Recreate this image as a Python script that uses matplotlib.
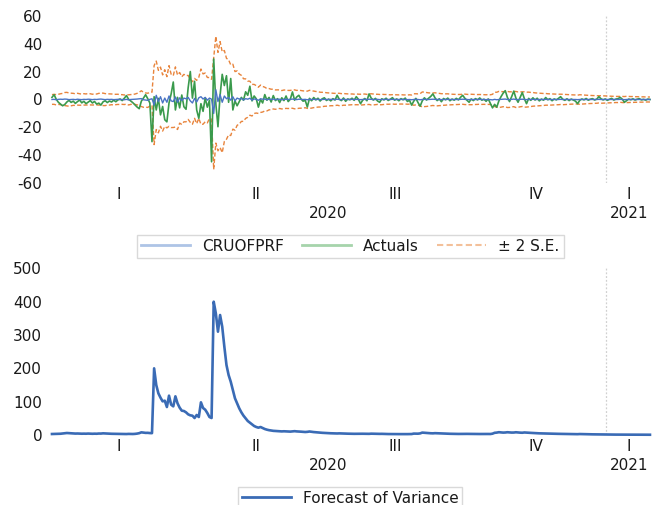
import numpy as np
import pandas as pd
import matplotlib
matplotlib.use("Agg")
import matplotlib.pyplot as plt
from matplotlib.lines import Line2D
from matplotlib.transforms import blended_transform_factory

plt.rcParams["font.family"] = ["DejaVu Sans"]
plt.rcParams["axes.unicode_minus"] = False

# Daily crude oil returns (%), GARCH mean forecast and forecast of variance
start_date = "2020-01-02"

actuals = [
    1.5, 3.4, 0.2, -2.0, -3.2, -4.5, -3.6, -1.8, -0.6, -2.1,
    -1.2, -2.8, -1.5, -0.4, -2.4, -1.3, -3.0, -1.9, -0.8, -2.5,
    -1.4, -3.3, -2.6, -4.0, -1.7, -0.9, -2.2, -1.1, -1.8, -0.5,
    -1.6, -0.3, 0.4, -0.8, 0.9, 2.8, 0.2, -1.0, -2.3, -3.8,
    -5.4, -6.6, -1.2, 1.0, 3.4, 0.6, -2.5, -30.2, 2.0, -7.5,
    0.8, -11.0, -5.0, -14.5, -16.0, -2.5, 4.0, 12.5, -7.5, 1.5,
    -6.0, 3.2, -5.2, -7.0, 8.5, 20.0, 1.0, 13.0, -7.5, -13.5,
    -3.0, -8.5, 1.2, -5.5, -0.5, -44.6, 29.0, -3.0, -19.5, 3.0,
    18.0, 10.0, 17.0, -2.0, 15.0, -7.5, -1.0, -4.5, -1.5, 1.5,
    -0.5, 5.5, 3.0, 9.5, -1.0, 2.5, 0.5, -5.5, 0.0, -2.5,
    3.5, -0.5, 1.5, -1.8, 2.8, -0.8, 0.6, -2.2, 1.2, -0.8,
    2.5, -1.5, 0.2, 5.4, -0.5, 1.8, 3.0, 0.4, -1.2, -0.6,
    -5.4, 0.8, -0.9, 1.4, -0.3, 0.9, -1.1, 0.5, 1.2, -0.7,
    0.3, -1.0, 0.6, -0.4, 3.0, 0.2, -0.8, 1.1, -1.3, 0.4,
    -0.2, 0.9, -0.6, 2.0, 0.1, -3.0, -0.5, 0.7, -0.9, 4.0,
    1.0, -0.4, 0.8, -1.1, -2.0, 0.5, -0.3, 0.9, -0.7, 0.2,
    1.3, -0.5, 0.4, -0.9, 0.6, -0.2, 1.0, -1.4, -0.6, -4.0,
    -1.2, 0.8, -2.2, -4.8, -1.0, 1.2, -0.4, 0.9, 2.2, 4.0,
    1.1, -0.8, 0.5, -1.6, 0.7, -0.2, 1.0, -0.9, 0.3, -0.5,
    0.8, -0.3, 1.6, 3.0, 0.9, -0.6, -2.0, 0.4, -0.8, 0.6,
    -0.3, 1.1, -0.5, 0.2, -1.3, 0.4, -2.8, -6.0, -3.5, -5.5,
    -1.0, 2.0, 4.5, 6.3, 1.5, -1.5, 2.0, 6.0, 1.0, -2.0,
    1.5, 5.0, 0.5, -3.0, 0.8, -0.6, 1.2, -0.4, 0.9, -1.0,
    0.3, -0.5, 1.4, -0.2, 0.6, -0.9, 0.4, -0.3, 0.8, 2.0,
    0.2, -0.6, 0.5, -0.8, 0.3, -0.4, -1.2, -3.0, -0.6, 0.4,
    -0.3, 0.7, -0.5, 0.2, 0.6, -0.4, 0.3, 2.0, 0.5, -0.3,
    0.4, -0.6, 0.2, 0.8, -0.4, 0.3, 0.6, 1.5, 0.2, -2.0,
    -0.8, 0.3, -0.2, 0.5, -0.4, 0.2, 0.6, -0.3, 0.1, -0.5,
    0.3, 0.0,
]

forecast = [
    0.0, 0.1, -0.2, 0.1, 0.2, 0.1, 0.3, 0.2, -0.1, 0.0,
    0.1, -0.1, 0.2, 0.0, -0.1, 0.1, 0.0, 0.2, 0.1, -0.1,
    0.1, 0.0, 0.2, 0.3, 0.1, -0.1, 0.1, 0.0, 0.1, -0.1,
    0.0, 0.1, -0.1, 0.0, -0.2, 0.1, -0.3, 0.0, 0.1, 0.2,
    0.3, 0.5, 0.6, -0.2, -0.4, -0.6, 0.1, 0.5, -4.0, 3.0,
    -1.5, 2.0, -2.5, 1.0, -2.0, 2.5, -1.0, -1.5, 1.8, -2.0,
    1.2, -0.8, 1.0, 0.5, 1.5, -1.0, -2.5, 0.8, -1.8, 1.2,
    2.0, 0.3, 1.5, -0.5, 1.0, 0.2, -10.0, 7.0, -1.5, 3.5,
    -2.0, 2.5, 0.5, 1.5, -0.5, 2.0, -1.0, 1.0, 0.3, 0.8,
    -0.4, 0.6, 0.2, 0.9, -0.5, 0.4, 0.1, -0.6, 0.5, 0.2,
    0.3, -0.2, 0.2, 0.0, 0.3, -0.1, 0.1, 0.2, -0.2, 0.1,
    0.2, 0.0, 0.1, 0.3, 0.1, -0.1, 0.2, 0.1, 0.0, 0.1,
    -0.2, 0.1, 0.0, 0.1, 0.0, 0.1, -0.1, 0.0, 0.1, 0.0,
    0.0, 0.1, 0.0, 0.0, 0.2, 0.0, -0.1, 0.1, 0.0, 0.0,
    0.0, 0.1, 0.0, 0.1, 0.0, -0.1, 0.0, 0.1, 0.0, 0.2,
    0.1, 0.0, 0.0, 0.1, -0.1, 0.0, 0.0, 0.1, 0.0, 0.0,
    0.1, 0.0, 0.0, 0.0, 0.1, 0.0, 0.0, -0.1, 0.0, -0.2,
    0.0, 0.1, 0.0, -0.2, 0.0, 0.1, 0.0, 0.0, 0.1, 0.2,
    0.1, 0.0, 0.0, -0.1, 0.0, 0.0, 0.1, 0.0, 0.0, 0.0,
    0.0, 0.0, 0.1, 0.2, 0.1, 0.0, -0.1, 0.0, 0.0, 0.0,
    0.0, 0.1, 0.0, 0.0, -0.1, 0.0, -0.1, -0.3, 0.1, -0.2,
    0.0, 0.1, 0.2, 0.3, 0.0, -0.1, 0.1, 0.3, 0.0, -0.1,
    0.1, 0.2, 0.0, -0.1, 0.0, 0.0, 0.1, 0.0, 0.0, 0.0,
    0.0, 0.0, 0.1, 0.0, 0.0, 0.0, 0.0, 0.0, 0.0, 0.1,
    0.0, 0.0, 0.0, 0.0, 0.0, 0.0, 0.0, -0.1, 0.0, 0.0,
    0.0, 0.0, 0.0, 0.0, 0.0, 0.0, 0.0, 0.1, 0.0, 0.0,
    0.0, 0.0, 0.0, 0.0, 0.0, 0.0, 0.0, 0.1, 0.0, -0.1,
    0.0, 0.0, 0.0, 0.0, 0.0, 0.0, 0.0, 0.0, 0.0, 0.0,
    0.0, 0.0,
]

variance = [
    3.0, 3.2, 3.4, 3.3, 3.8, 4.5, 5.5, 6.0, 5.6, 5.0,
    4.6, 4.3, 4.5, 4.2, 3.9, 4.1, 3.9, 4.3, 4.0, 3.7,
    4.0, 3.8, 4.4, 4.3, 5.0, 4.6, 4.1, 4.0, 3.7, 3.6,
    3.4, 3.3, 3.1, 3.0, 2.9, 2.9, 3.3, 3.1, 3.0, 3.4,
    4.2, 5.5, 8.0, 7.2, 6.4, 6.5, 5.8, 5.6, 200, 150,
    125, 112, 101, 103, 84, 118, 91, 86, 116, 95,
    82, 73, 72, 68, 62, 59, 58, 51, 60, 54,
    98, 81, 76, 66, 54, 51, 400, 365, 310, 360,
    325, 265, 210, 180, 160, 135, 110, 95, 80, 68,
    58, 50, 42, 37, 32, 27, 24, 22, 24, 21,
    18, 16, 14.5, 13.5, 12.5, 12, 11.5, 11, 10.8, 11.2,
    10.8, 10.5, 10.2, 10.8, 11.5, 10.8, 10.5, 10, 9.5, 9.0,
    9.5, 10.5, 9.5, 8.8, 8.2, 7.6, 7.0, 6.6, 6.2, 5.8,
    5.5, 5.2, 5.0, 4.8, 4.6, 4.9, 4.6, 4.4, 4.2, 4.0,
    3.8, 3.7, 3.6, 3.7, 3.6, 3.7, 3.8, 3.6, 3.4, 3.5,
    4.0, 3.8, 3.5, 3.3, 3.4, 3.5, 3.2, 3.0, 2.9, 2.8,
    2.8, 2.9, 2.8, 2.7, 2.8, 2.7, 2.6, 2.7, 2.8, 2.9,
    4.2, 4.0, 4.0, 4.8, 7.2, 6.8, 6.2, 5.6, 5.2, 5.0,
    5.5, 5.2, 4.8, 4.5, 4.3, 4.1, 3.9, 3.7, 3.5, 3.4,
    3.3, 3.2, 3.1, 3.3, 3.5, 3.4, 3.3, 3.5, 3.3, 3.2,
    3.1, 3.0, 3.1, 3.0, 3.0, 3.1, 3.0, 4.0, 6.6, 7.2,
    8.4, 7.8, 7.2, 7.5, 8.3, 7.8, 7.3, 7.4, 8.2, 7.6,
    7.1, 6.8, 7.6, 7.1, 6.9, 6.4, 6.0, 5.6, 5.3, 5.0,
    4.8, 4.6, 4.4, 4.2, 4.1, 3.9, 3.8, 3.6, 3.5, 3.4,
    3.5, 3.3, 3.1, 3.0, 2.8, 2.7, 2.6, 2.5, 2.9, 2.7,
    2.5, 2.3, 2.2, 2.1, 2.0, 1.9, 1.8, 1.7, 1.8, 1.7,
    1.6, 1.5, 1.4, 1.3, 1.3, 1.2, 1.2, 1.1, 1.2, 1.2,
    1.3, 1.2, 1.1, 1.1, 1.0, 1.0, 0.9, 0.9, 0.9, 0.8,
    0.8, 0.8,
]

quarter_names = ["I", "II", "III", "IV"]

actuals = np.array(actuals)
forecast = np.array(forecast)
variance = np.array(variance)
n = len(actuals)
obs = np.arange(n)
dates = pd.bdate_range(start_date, periods=n)

# +/- 2 standard errors around the mean forecast
se = np.sqrt(variance)
upper = forecast + 2 * se
lower = forecast - 2 * se

# observation-based x axis: quarter labels centred on each quarter, year below
qtr = dates.to_period("Q")
q_pos, q_lab = [], []
for p in qtr.unique():
    q_pos.append(obs[qtr == p].mean())
    q_lab.append(quarter_names[p.quarter - 1])
yrs = dates.year
y_pos = [obs[yrs == y].mean() for y in np.unique(yrs)]
y_lab = [str(y) for y in np.unique(yrs)]
year_break = obs[yrs == yrs.max()][0] - 0.5

fig = plt.figure(figsize=(6.57, 5.05), dpi=100)
ax1 = fig.add_axes([0.0791, 0.637, 0.9102, 0.332])
ax2 = fig.add_axes([0.0791, 0.1386, 0.9102, 0.330])

FS = 11
TXT = "#1a1a1a"


def style_axis(ax):
    for s in ax.spines.values():
        s.set_visible(False)
    ax.set_xlim(0, n - 1)
    ax.set_xticks(q_pos)
    ax.set_xticklabels(q_lab)
    ax.tick_params(axis="both", length=0, labelsize=FS, colors=TXT)
    ax.tick_params(axis="y", pad=7)
    ax.tick_params(axis="x", pad=3)
    ax.axvline(year_break, color="#d0d0d0", lw=0.9, ls=(0, (1.5, 1.5)), zorder=0)
    tr = blended_transform_factory(ax.transData, ax.transAxes)
    for x, lab in zip(y_pos, y_lab):
        ax.annotate(lab, xy=(x, 0), xycoords=tr, xytext=(0, -22),
                    textcoords="offset points", ha="center", va="center",
                    fontsize=FS, color=TXT, annotation_clip=False)


# top panel: actuals, mean forecast and bands
ax1.plot(obs, upper, color="#e8843c", lw=1.0, ls=(0, (3, 1.6)), clip_on=False)
ax1.plot(obs, lower, color="#e8843c", lw=1.0, ls=(0, (3, 1.6)), clip_on=False)
ax1.plot(obs, actuals, color="#3a9a4c", lw=1.2, clip_on=False)
ax1.plot(obs, forecast, color="#4a74c4", lw=1.0, clip_on=False)
ax1.set_ylim(-60, 60)
ax1.set_yticks(np.arange(-60, 61, 20))
style_axis(ax1)

# bottom panel: forecast of variance
ax2.plot(obs, variance, color="#3a6bb5", lw=1.9, clip_on=False, solid_joinstyle="round")
ax2.set_ylim(0, 500)
ax2.set_yticks(np.arange(0, 501, 100))
style_axis(ax2)

legend_kw = dict(ncol=3, loc="upper center", fontsize=FS, frameon=True, fancybox=False,
                 edgecolor="#d9d9d9", framealpha=1, handlelength=3.2, handletextpad=0.8,
                 columnspacing=1.2, borderpad=0.25, borderaxespad=0, labelcolor=TXT)

h1 = [Line2D([], [], color="#aec4e6", lw=2),
      Line2D([], [], color="#a6d4ab", lw=2),
      Line2D([], [], color="#f3c09a", lw=1.5, ls=(0, (3, 1.6)))]
leg1 = fig.legend(h1, ["CRUOFPRF", "Actuals", "± 2 S.E."],
                  bbox_to_anchor=(0.533, 1 - 235 / 505), **legend_kw)
leg1.get_frame().set_linewidth(1.0)

h2 = [Line2D([], [], color="#3a6bb5", lw=2)]
leg2 = fig.legend(h2, ["Forecast of Variance"],
                  bbox_to_anchor=(0.533, 1 - 487 / 505), **legend_kw)
leg2.get_frame().set_linewidth(1.0)

fig.savefig("out.png", dpi=100)
